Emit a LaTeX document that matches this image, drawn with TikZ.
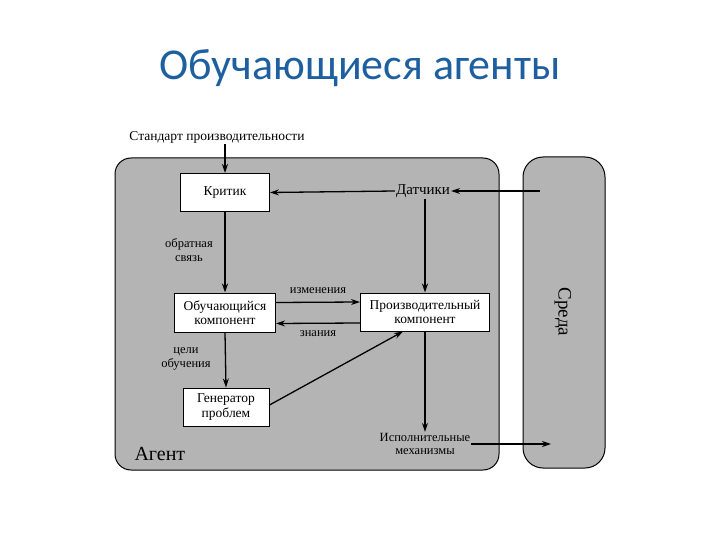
\documentclass[tikz,border=0pt]{standalone}
\usepackage{fontspec}
\setmainfont{Liberation Serif}
\newfontfamily\titlefont{Carlito}
\usetikzlibrary{arrows.meta}
\definecolor{titleblue}{RGB}{30,95,160}
\definecolor{panel}{RGB}{180,180,180}
\tikzset{
  arr/.style={line width=1.3pt,-{Stealth[length=9pt,width=6pt]}},
  boxn/.style={draw=black,line width=1pt,fill=white,align=center,font=\fontsize{13.5}{14.5}\selectfont,inner sep=2pt},
  lab/.style={align=center,font=\fontsize{12.5}{13.5}\selectfont,inner sep=1pt},
  panelbox/.style={draw=black,line width=1pt,fill=panel}
}
\begin{document}
\begin{tikzpicture}[x=1pt,y=-1pt]
\useasboundingbox (0,0) rectangle (720,540);
\node[font=\titlefont\fontsize{44}{48}\selectfont,text=titleblue] (title) at (360,68) {Обучающиеся агенты};
% panels
\draw[panelbox,rounded corners=16pt] (115,158) rectangle (499,470);
\draw[panelbox,rounded corners=20pt] (523,157) rectangle (605,468);
\node[rotate=-90,font=\fontsize{19}{21}\selectfont] (env) at (563,312) {Среда};
\node[font=\fontsize{20}{22}\selectfont,anchor=west] (agent) at (131,454) {Агент};
% boxes
\node[boxn,minimum width=89pt,minimum height=38pt] (critic) at (225,192.5) {Критик};
\node[boxn,minimum width=101pt,minimum height=39pt] (learn) at (225,312.5) {Обучающийся\\компонент};
\node[boxn,minimum width=129pt,minimum height=38pt] (perf) at (425,312) {Производительный\\компонент};
\node[boxn,minimum width=86pt,minimum height=38pt] (gen) at (226,407) {Генератор\\проблем};
% texts
\node[lab,font=\fontsize{13.5}{14.5}\selectfont] (std) at (217,137) {Стандарт производительности};
\node[lab,font=\fontsize{15}{16}\selectfont] (sensors) at (423,191) {Датчики};
\node[lab] (eff) at (425,444) {Исполнительные\\механизмы};
\node[lab] (fb) at (189,250) {обратная\\связь};
\node[lab] (goals) at (186,359) {цели\\обучения};
\node[lab] (chg) at (318,291) {изменения};
\node[lab] (know) at (318,334) {знания};
\coordinate (envin) at (540,191);
\coordinate (envout) at (551,444);
% connectors
\draw[arr] (critic.north |- std.south) -- (critic.north);
\draw[arr] (envin) -- (sensors.east);
\draw[arr] (sensors.west) -- (critic.east);
\draw[arr] (sensors.south -| perf.north) -- (perf.north);
\draw[arr] (critic.south) -- (learn.north);
\draw[arr] ([yshift=10pt]learn.east) -- ([yshift=10pt]perf.west);
\draw[arr] ([yshift=-11pt]perf.west) -- ([yshift=-11pt]learn.east);
\draw[arr] (learn.south) -- (gen.north);
\draw[arr] ([yshift=2pt]gen.east) -- ([xshift=-22pt]perf.south);
\draw[arr] (perf.south) -- (eff.north);
\draw[arr] (eff.east) -- (envout);
\end{tikzpicture}
\end{document}
